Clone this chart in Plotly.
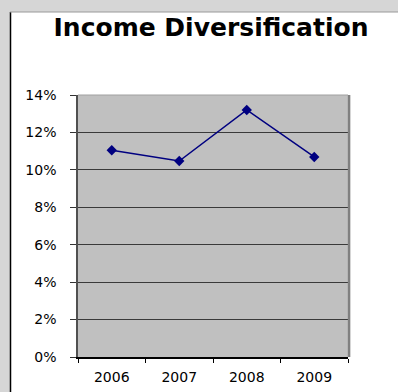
import plotly.graph_objects as go

years = ["2006", "2007", "2008", "2009"]
values = [0.1105, 0.1047, 0.1320, 0.1069]
y_ticks = [0, 0.02, 0.04, 0.06, 0.08, 0.10, 0.12, 0.14]
y_tick_labels = ["0%", "2%", "4%", "6%", "8%", "10%", "12%", "14%"]

W, H = 398, 392
L, R, T, B = 78, 50, 95, 35
pw, ph = W - L - R, H - T - B

def px(x):
    return (x - L) / pw

def py(y):
    return (H - B - y) / ph

fig = go.Figure()
fig.add_trace(go.Scatter(
    x=years, y=values, mode="lines+markers",
    line=dict(color="#000080", width=1.5),
    marker=dict(symbol="diamond", size=8, color="#000080"),
    hoverinfo="skip", showlegend=False,
))

shapes = [
    dict(type="rect", xref="paper", yref="paper", x0=px(0), x1=px(10), y0=py(H), y1=py(0),
         fillcolor="#d6d6d6", line=dict(width=0), layer="below"),
    dict(type="rect", xref="paper", yref="paper", x0=px(0), x1=px(W), y0=py(12), y1=py(0),
         fillcolor="#d6d6d6", line=dict(width=0), layer="below"),
    dict(type="line", xref="paper", yref="paper", x0=px(10.5), x1=px(10.5), y0=py(H), y1=py(12),
         line=dict(color="#000000", width=1.5)),
    dict(type="line", xref="paper", yref="paper", x0=px(10), x1=px(W), y0=py(12), y1=py(12),
         line=dict(color="#9a9a9a", width=1)),
    dict(type="line", xref="paper", yref="paper", x0=1.004, x1=1.004, y0=0, y1=1,
         line=dict(color="#808080", width=2.5)),
    dict(type="line", xref="paper", yref="paper", x0=0, x1=1, y0=1, y1=1,
         line=dict(color="#a0a0a0", width=1)),
]

fig.update_layout(
    width=W, height=H,
    margin=dict(l=L, r=R, t=T, b=B),
    paper_bgcolor="#ffffff",
    plot_bgcolor="#c0c0c0",
    shapes=shapes,
    title=dict(text="<b>Income Diversification</b>", x=211 / W, xanchor="center",
               y=1 - 27 / H, yanchor="middle",
               font=dict(family="DejaVu Sans", size=25, color="#000000")),
    font=dict(family="DejaVu Sans", size=13, color="#000000"),
    xaxis=dict(type="category", showgrid=False, tickson="boundaries",
               ticks="outside", ticklen=4, tickcolor="#000000",
               showline=True, linecolor="#000000", linewidth=1.5,
               tickfont=dict(size=14), range=[-0.5, 3.5], fixedrange=True,
               ticklabelstandoff=6, automargin=False),
    yaxis=dict(range=[0, 0.14], tickvals=y_ticks, ticktext=y_tick_labels,
               showgrid=True, gridcolor="#3a3a3a", gridwidth=1,
               ticks="outside", ticklen=6, tickcolor="#333333",
               showline=True, linecolor="#505050", linewidth=1.5,
               zeroline=False, tickfont=dict(size=14), ticklabelstandoff=11,
               fixedrange=True, automargin=False),
)

fig.write_html(
    "out.html", config={"displayModeBar": False},
    post_script=(
        "document.documentElement.style.margin='0';"
        "document.documentElement.style.overflow='hidden';"
        "document.body.style.margin='0';"
        "document.body.style.overflow='hidden';"
    ),
)
